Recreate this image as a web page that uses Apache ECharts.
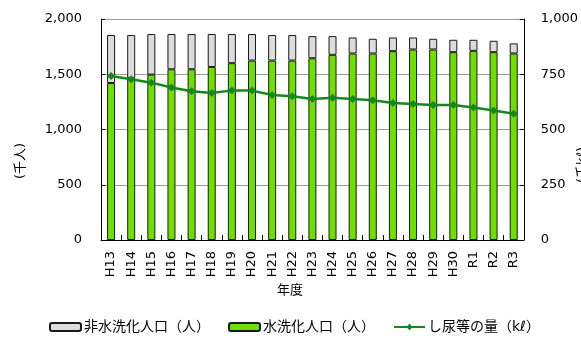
<!DOCTYPE html>
<html>
<head>
<meta charset="utf-8">
<script src="https://cdn.jsdelivr.net/npm/echarts@6/dist/echarts.min.js"></script>
<style>
  html, body { margin: 0; padding: 0; background: #fff; }
  #chart { width: 581px; height: 338px; }
</style>
</head>
<body>
<div id="chart"></div>
<script>
// 年度
var years = ['H13','H14','H15','H16','H17','H18','H19','H20','H21','H22','H23','H24','H25','H26','H27','H28','H29','H30','R1','R2','R3'];
// 水洗化人口（千人）
var flushPop = [1421,1465,1497,1545,1545,1566,1600,1624,1624,1624,1645,1676,1688,1688,1709,1724,1724,1700,1712,1700,1688];
// 非水洗化人口（千人）
var nonFlushPop = [434,390,367,319,319,298,264,240,231,231,200,169,145,133,124,109,97,112,100,103,91];
// し尿等の量（千kℓ）
var nightSoil = [742,727,712,690,673,665,677,676,656,650,638,644,638,632,620,615,611,611,600,586,571];

var leftTicks = [0, 500, 1000, 1500, 2000];
var rightTicks = [0, 250, 500, 750, 1000];

var FONT = '"DejaVu Sans", "Noto Sans CJK JP", sans-serif';
var chart = echarts.init(document.getElementById('chart'), null, { renderer: 'canvas' });

chart.setOption({
  animation: false,
  backgroundColor: '#ffffff',
  textStyle: { fontFamily: FONT, color: '#000' },
  grid: { left: 101, right: 57, top: 19, bottom: 98, containLabel: false },
  legend: {
    data: ['非水洗化人口（人）', '水洗化人口（人）', 'し尿等の量（kℓ）'],
    left: 44,
    top: 315,
    itemWidth: 31,
    itemHeight: 8,
    itemGap: 18,
    textStyle: { fontFamily: FONT, fontSize: 14, color: '#000', padding: [0, 0, 0, -2] }
  },
  xAxis: {
    type: 'category',
    data: years,
    boundaryGap: true,
    axisLine: { lineStyle: { color: '#000', width: 1 } },
    axisTick: { show: true, inside: true, length: 5, lineStyle: { color: '#000' } },
    axisLabel: { rotate: 90, margin: 11, fontSize: 13, fontFamily: FONT, color: '#000' }
  },
  yAxis: [
    {
      type: 'value',
      min: leftTicks[0],
      max: leftTicks[leftTicks.length - 1],
      interval: 500,
      axisLine: { show: true, lineStyle: { color: '#000', width: 1 } },
      axisTick: { show: true, inside: true, length: 4, lineStyle: { color: '#000' } },
      splitLine: { show: true, lineStyle: { color: '#9a9a9a', width: 1 } },
      axisLabel: {
        margin: 19, fontSize: 13, fontFamily: FONT, color: '#000',
        formatter: function (v) { return v.toLocaleString('en-US'); }
      }
    },
    {
      type: 'value',
      min: rightTicks[0],
      max: rightTicks[rightTicks.length - 1],
      interval: 250,
      position: 'right',
      axisLine: { show: true, lineStyle: { color: '#000', width: 1 } },
      axisTick: { show: true, inside: true, length: 4, lineStyle: { color: '#000' } },
      splitLine: { show: false },
      axisLabel: {
        margin: 17, fontSize: 13, fontFamily: FONT, color: '#000',
        formatter: function (v) { return v.toLocaleString('en-US'); }
      }
    }
  ],
  series: [
    {
      name: '水洗化人口（人）',
      type: 'bar',
      stack: 'pop',
      barWidth: 8,
      data: flushPop,
      itemStyle: { color: '#6ee000', borderColor: '#1a1a1a', borderWidth: 1 }
    },
    {
      name: '非水洗化人口（人）',
      type: 'bar',
      stack: 'pop',
      barWidth: 8,
      data: nonFlushPop,
      itemStyle: { color: '#dcdcdc', borderColor: '#1a1a1a', borderWidth: 1 }
    },
    {
      name: 'し尿等の量（kℓ）',
      type: 'line',
      yAxisIndex: 1,
      data: nightSoil,
      z: 5,
      symbol: 'diamond',
      symbolSize: 8,
      lineStyle: { color: '#14881a', width: 2.5 },
      itemStyle: { color: '#14881a' }
    }
  ],
  graphic: [
    {
      type: 'text', x: 21, y: 161, rotation: Math.PI / 2,
      style: { text: '(千人)', fontSize: 13, fontFamily: FONT, fill: '#000', align: 'center', verticalAlign: 'middle' }
    },
    {
      type: 'text', x: 583, y: 165, rotation: Math.PI / 2,
      style: { text: '(千kℓ)', fontSize: 13, fontFamily: FONT, fill: '#000', align: 'center', verticalAlign: 'middle' }
    },
    {
      type: 'text', x: 290, y: 291,
      style: { text: '年度', fontSize: 13, fontFamily: FONT, fill: '#000', align: 'center', verticalAlign: 'middle' }
    }
  ]
});
</script>
</body>
</html>
